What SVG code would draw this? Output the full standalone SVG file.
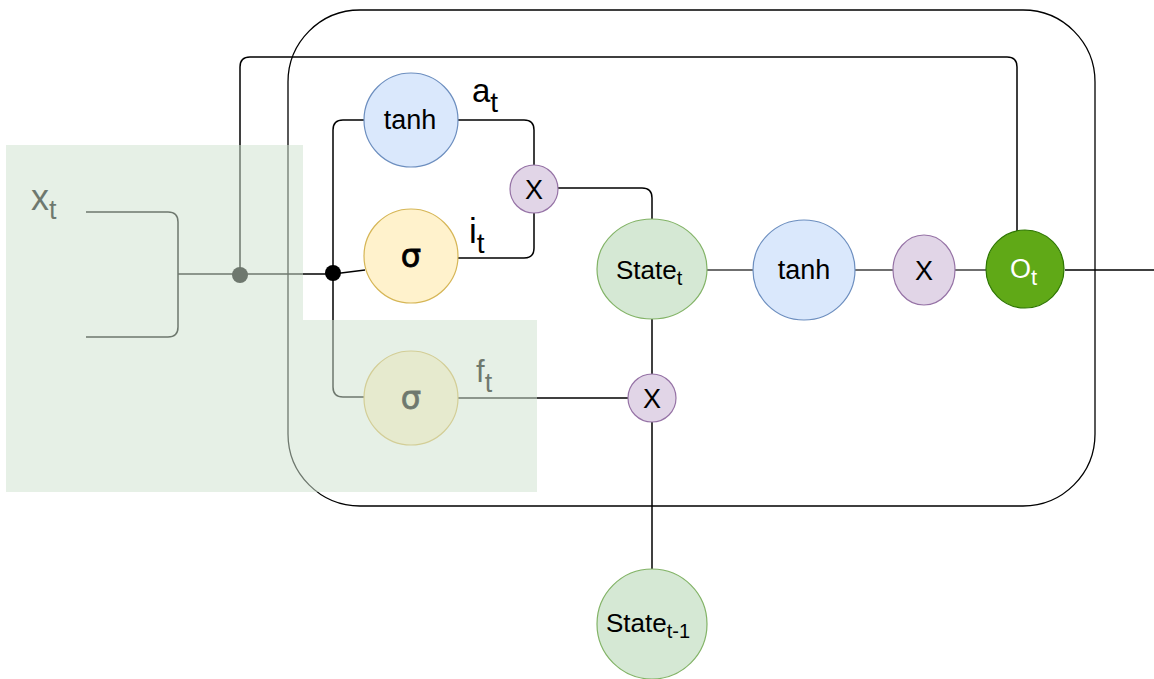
<svg xmlns="http://www.w3.org/2000/svg" width="1154" height="679" viewBox="0 0 1154 679">
  <style>
    text { font-family: "Liberation Sans", Arial, Helvetica, sans-serif; fill: #000; }
    .wire { fill: none; stroke: #000; stroke-width: 1.5; }
    .wire-grey { fill: none; stroke: #6f6f6f; stroke-width: 2; }
    .tanh { fill: #dae8fc; stroke: #6c8ebf; stroke-width: 1.2; }
    .sig { fill: #fff2cc; stroke: #d6b656; stroke-width: 1.2; }
    .mul { fill: #e1d5e7; stroke: #9673a6; stroke-width: 1.2; }
    .state { fill: #d5e8d4; stroke: #82b366; stroke-width: 1.2; }
    .out { fill: #60a917; stroke: #2d7600; stroke-width: 1.2; }
    .lbl { font-size: 27px; text-anchor: middle; }
    .greek { font-family: "DejaVu Sans", sans-serif; font-size: 32px; text-anchor: middle; stroke: #000; stroke-width: 0.8; }
  </style>

  <rect width="1154" height="679" fill="#ffffff"/>

  <!-- cell boundary -->
  <rect id="cell" x="288" y="10" width="807" height="496" rx="72" ry="72" fill="none" stroke="#000" stroke-width="1.3"/>

  <!-- connectors -->
  <g id="connectors">
    <!-- input x_t fan-in -->
    <path class="wire" d="M86,212 H168 Q178,212 178,222 V327 Q178,337 168,337 H86"/>
    <path class="wire" d="M178,274 H333"/>
    <!-- input bypass to output gate -->
    <path class="wire" d="M240,274 V67 Q240,57 250,57 H1007 Q1017,57 1017,67 V231"/>
    <!-- branches into the gates -->
    <path class="wire" d="M333,274 L365,270"/>
    <path class="wire" d="M333,274 V130 Q333,120 343,120 H364"/>
    <path class="wire" d="M333,274 V387 Q333,397 343,397 H364"/>
    <!-- candidate and input gate into the multiplier -->
    <path class="wire" d="M458,120 H524 Q534,120 534,130 V165"/>
    <path class="wire" d="M458,258 H524 Q534,258 534,248 V213"/>
    <path class="wire" d="M558,188 H642 Q652,188 652,198 V220"/>
    <!-- forget path -->
    <path class="wire" d="M458,398 H628"/>
    <path class="wire" d="M652,319 V375"/>
    <path class="wire" d="M652,422 V569"/>
    <!-- output chain -->
    <path class="wire-grey" d="M707,270 H753"/>
    <path class="wire-grey" d="M855,270 H893"/>
    <path class="wire-grey" d="M955,270 H986"/>
    <path class="wire" d="M1065,270 H1154"/>
    <!-- junction dots -->
    <circle cx="240" cy="275" r="8" fill="#000"/>
    <circle cx="333" cy="273" r="8" fill="#000"/>
  </g>

  <g id="input-label">
    <text x="31" y="210" font-size="36">x<tspan dy="9" font-size="27">t</tspan></text>
  </g>

  <g id="tanh-candidate">
    <circle class="tanh" cx="411" cy="120" r="47"/>
    <text class="lbl" x="410" y="129" font-size="26">tanh</text>
  </g>
  <g id="label-a">
    <text x="472" y="102" font-size="33">a<tspan dy="10" font-size="28">t</tspan></text>
  </g>

  <g id="sigma-input">
    <circle class="sig" cx="411" cy="256" r="47"/>
    <text class="greek" x="411" y="267">σ</text>
  </g>
  <g id="label-i">
    <text x="469" y="243" font-size="35">i<tspan dy="10" font-size="28">t</tspan></text>
  </g>

  <g id="sigma-forget">
    <circle class="sig" cx="411" cy="398" r="47"/>
    <text class="greek" x="411" y="409">σ</text>
  </g>
  <g id="label-f">
    <text x="476" y="382" font-size="31">f<tspan dy="10" font-size="27">t</tspan></text>
  </g>

  <g id="mul-input">
    <circle class="mul" cx="534" cy="189" r="24"/>
    <text class="lbl" x="534" y="199" font-size="28">X</text>
  </g>

  <g id="state-t">
    <ellipse class="state" cx="652" cy="269" rx="55" ry="50"/>
    <text x="616" y="279" font-size="26">State<tspan dy="6" font-size="20">t</tspan></text>
  </g>

  <g id="mul-forget">
    <circle class="mul" cx="652" cy="398" r="24"/>
    <text class="lbl" x="652" y="408" font-size="28">X</text>
  </g>

  <g id="state-prev">
    <circle class="state" cx="652" cy="624" r="55"/>
    <text x="606" y="632" font-size="26">State<tspan dy="6" font-size="20">t-1</tspan></text>
  </g>

  <g id="tanh-state">
    <ellipse class="tanh" cx="804" cy="270" rx="51" ry="50"/>
    <text class="lbl" x="804" y="279" font-size="27">tanh</text>
  </g>

  <g id="mul-output">
    <ellipse class="mul" cx="924" cy="270" rx="31" ry="35"/>
    <text class="lbl" x="924" y="280" font-size="28">X</text>
  </g>

  <g id="output-gate">
    <circle class="out" cx="1025" cy="269" r="39"/>
    <text x="1010" y="278" font-size="27" style="fill:#ffffff">O<tspan dy="7" font-size="22">t</tspan></text>
  </g>

  <!-- translucent highlight over the input and forget path -->
  <path id="highlight" d="M6,145 H303 V320 H537 V492 H6 Z" fill="#cfe3cf" fill-opacity="0.53"/>
</svg>
